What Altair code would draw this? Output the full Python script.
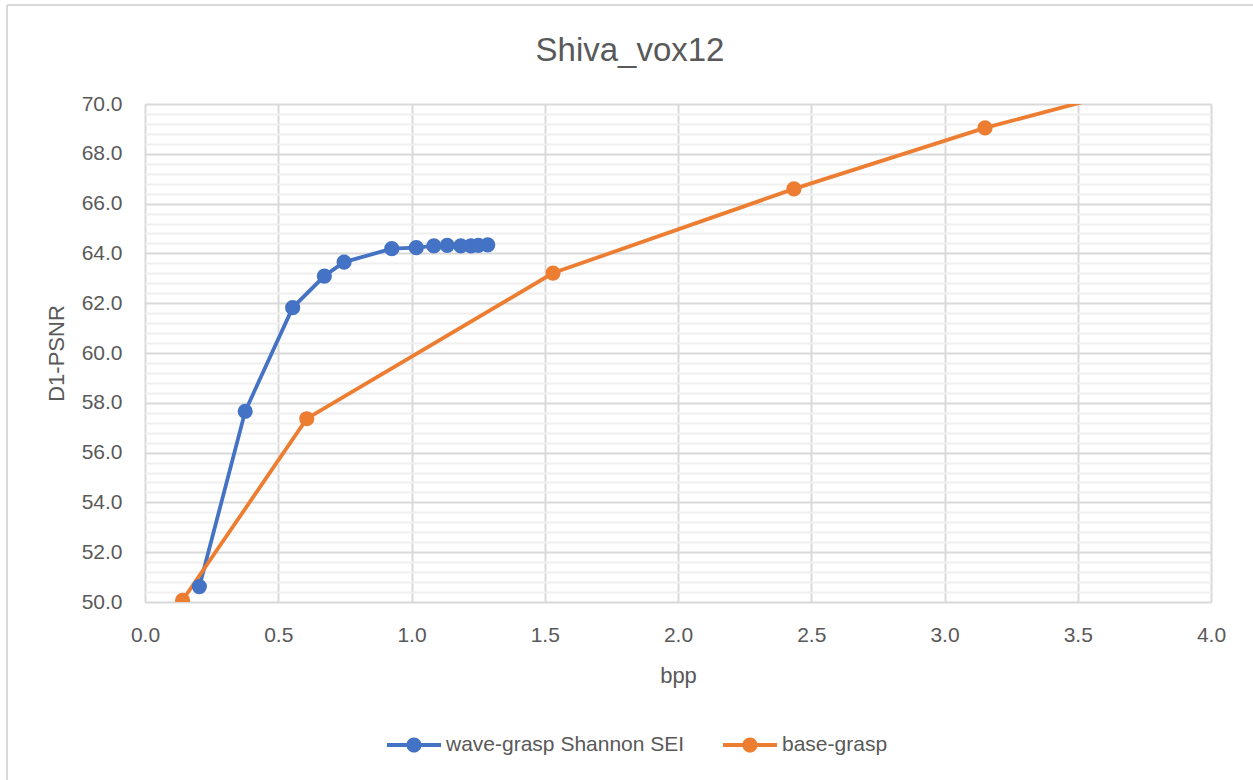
import altair as alt
import pandas as pd
import numpy as np

# ---- data ----
wave_bpp = [0.204, 0.376, 0.554, 0.673, 0.747, 0.926, 1.018, 1.084, 1.134, 1.185, 1.223, 1.251, 1.286]
wave_psnr = [50.62, 57.66, 61.82, 63.09, 63.65, 64.19, 64.23, 64.30, 64.32, 64.30, 64.30, 64.32, 64.34]
base_bpp = [0.141, 0.607, 1.531, 2.435, 3.152, 4.30]
base_psnr = [50.07, 57.36, 63.21, 66.59, 69.04, 72.30]
series_names = ["wave-grasp Shannon SEI", "base-grasp"]
series_colors = ["#4472C4", "#ED7D31"]
x_ticks = [0.0, 0.5, 1.0, 1.5, 2.0, 2.5, 3.0, 3.5, 4.0]
y_ticks = np.round(np.arange(50.0, 70.001, 0.4), 1).tolist()

df = pd.concat([
    pd.DataFrame({"bpp": wave_bpp, "psnr": wave_psnr, "series": series_names[0],
                  "col": series_colors[0]}),
    pd.DataFrame({"bpp": base_bpp, "psnr": base_psnr, "series": series_names[1],
                  "col": series_colors[1]}),
], ignore_index=True)
df["order"] = df.index

FONT = "Liberation Sans"
GREY = "#595959"
major_test = "abs(datum.value - round(datum.value/2)*2) < 0.01"

x_enc = alt.X("bpp:Q", scale=alt.Scale(domain=[0, 4], nice=False),
              axis=alt.Axis(values=x_ticks, format=".1f", title="bpp", grid=True,
                            gridColor="#d9d9d9", gridWidth=2, domain=False, ticks=False,
                            tickSize=0, labelPadding=22, labelFontSize=21, labelColor=GREY,
                            labelFlush=False, labelFont=FONT, titleFont=FONT, titleFontSize=22,
                            titleFontWeight="normal", titleColor=GREY,
                            titleBaseline="alphabetic", titleY=80))
y_enc = alt.Y("psnr:Q", scale=alt.Scale(domain=[50, 70], nice=False, zero=False),
              axis=alt.Axis(values=y_ticks, tickCount=200, title="D1-PSNR", grid=True,
                            gridColor={"condition": {"test": major_test, "value": "#d9d9d9"},
                                       "value": "#f0f0f0"},
                            gridWidth=2, domain=False, ticks=False, tickSize=0,
                            labelExpr=f"{major_test} ? format(datum.value, '.1f') : ''",
                            labelOverlap=False, labelFlush=False, labelPadding=23,
                            labelFontSize=21, labelColor=GREY, labelFont=FONT, titleFont=FONT,
                            titleFontSize=22, titleFontWeight="normal", titleColor=GREY,
                            titleBaseline="alphabetic", titleX=-82))

color_scale = alt.Scale(domain=series_names, range=series_colors)

legend_symbol = ("M-1,-0.07 L1,-0.07 L1,0.07 L-1,0.07 Z "
                 "M-0.28,0 A0.28,0.28 0 1,1 0.28,0 A0.28,0.28 0 1,1 -0.28,0 Z")

lines = alt.Chart(df).mark_line(strokeWidth=3.8, clip=True).encode(
    x=x_enc, y=y_enc, order="order:Q", detail="series:N",
    stroke=alt.Stroke("col:N", scale=None),
)
points = alt.Chart(df).mark_point(filled=True, size=230, opacity=1, strokeWidth=0,
                                  clip=True).encode(
    x="bpp:Q", y="psnr:Q",
    color=alt.Color("series:N", scale=color_scale,
                    legend=alt.Legend(title=None, orient="none", direction="horizontal",
                                      legendX=242, legendY=614,
                                      symbolType=legend_symbol, symbolSize=2916,
                                      symbolStrokeWidth=0, symbolOpacity=1,
                                      labelFontSize=21, labelFont=FONT, labelColor=GREY,
                                      labelLimit=0, labelOffset=5, columnPadding=38)),
)

border_left = alt.Chart(df).mark_rule(color="#d9d9d9", strokeWidth=2).encode(
    x=alt.value(-138), y=alt.value(-99), y2=alt.value(700))
border_top = alt.Chart(df).mark_rule(color="#d9d9d9", strokeWidth=2).encode(
    x=alt.value(-138), x2=alt.value(1140), y=alt.value(-99))

chart = alt.layer(border_left, border_top, lines, points).properties(
    width=1066, height=498,
    title=alt.TitleParams("Shiva_vox12", font=FONT, fontSize=33, fontWeight="normal",
                          color=GREY, anchor="middle", baseline="alphabetic", offset=-90,
                          dx=-48),
    autosize=alt.AutoSizeParams(type="none"),
    padding={"left": 145, "top": 104, "right": 42, "bottom": 178},
).configure_view(stroke=None).configure(background="white")

chart.save("out.html", embed_options={"renderer": "svg", "actions": False})
